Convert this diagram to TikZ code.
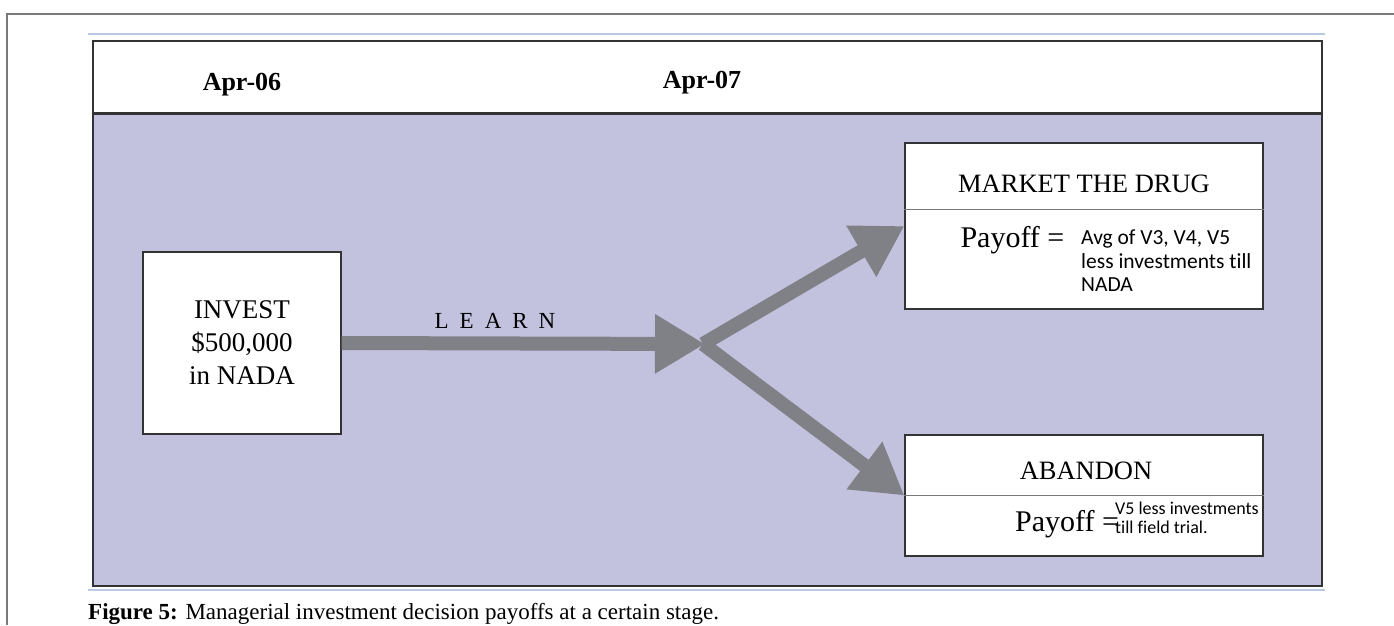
\documentclass[tikz,border=0pt]{standalone}
\usepackage{fontspec}
\setmainfont{Liberation Serif}
\newfontfamily\sansf[Ligatures={NoCommon}]{Carlito}
\usetikzlibrary{arrows.meta}
\definecolor{bgpurple}{HTML}{C2C2DF}
\definecolor{arrowgray}{HTML}{808186}
\definecolor{framegray}{HTML}{7A7A7A}
\definecolor{rulelight}{HTML}{BACAE2}
\definecolor{darkline}{HTML}{333333}
\tikzset{
  box/.style={draw=darkline, line width=1.3pt, fill=white, inner sep=0pt},
  bigarrow/.style={draw=arrowgray, line width=14pt, -{Triangle[length=50pt,width=56pt]}},
  serifbig/.style={font=\fontsize{26.5}{30}\selectfont},
}
\begin{document}
\begin{tikzpicture}[x=1pt,y=-1pt]
\useasboundingbox (0,0) rectangle (1394,625);
% outer frame
\draw[framegray, line width=1.5pt] (7,625) -- (7,14) -- (1394,14);
% light rules
\draw[rulelight, line width=1.2pt] (88,34) -- (1325,34);
\draw[rulelight, line width=1.2pt] (88,590) -- (1325,590);
% main panel
\fill[white] (93,41) rectangle (1322,113);
\fill[bgpurple] (93,113) rectangle (1322,586);
\draw[darkline, line width=2pt] (93,41) rectangle (1322,586);
\draw[darkline, line width=3pt] (93,113) -- (1322,113);
% header labels
\node[font=\fontsize{26}{30}\selectfont\bfseries] (a06) at (242,85) {Apr-06};
\node[font=\fontsize{26}{30}\selectfont\bfseries] (a07) at (702,83) {Apr-07};
% invest box
\node[box, minimum width=198pt, minimum height=182pt, align=center,
      font=\fontsize{27}{33}\selectfont] (inv) at (242,343) {INVEST\\\$500,000\\in NADA};
% market box
\node[box, minimum width=358pt, minimum height=166pt] (mkt) at (1084,226) {};
\draw[framegray, line width=1pt] (mkt.west |- 0,209) coordinate (m1) -- (mkt.east |- 0,209) coordinate (m2);
\node[serifbig] (mkttitle) at (1084,184) {MARKET THE DRUG};
\node[font=\fontsize{30}{34}\selectfont, anchor=base west] (mktpay) at (957,247) {Payoff =};
\node[font=\sansf\fontsize{21.5}{23.5}\selectfont, anchor=north west, align=left, inner sep=0pt] (mktval) at (1081,230)
  {Avg of V3, V4, V5\\less investments till\\NADA};
% abandon box
\node[box, minimum width=358pt, minimum height=121pt] (abd) at (1084,495.5) {};
\draw[framegray, line width=1pt] (abd.west |- 0,495) coordinate (a1) -- (abd.east |- 0,495) coordinate (a2);
\node[serifbig] (abdtitle) at (1086,471) {ABANDON};
\node[font=\fontsize{30}{34}\selectfont, anchor=base west, inner sep=0pt] (abdpay) at (1015,531) {Payoff =};
\node[font=\sansf\fontsize{18}{19}\selectfont, anchor=north west, align=left, inner sep=0pt] (abdval) at (1115,502)
  {V5 less investments\\till field trial.};
% arrows
\coordinate (br) at (705,344);
\node[font=\fontsize{23}{26}\selectfont] (learn) at (495,321) {L\hspace{11pt}E\hspace{11pt}A\hspace{11pt}R\hspace{11pt}N};
\draw[bigarrow] (inv.east) -- (br);
\draw[bigarrow] ([xshift=-2pt]br) -- (mkt.west);
\draw[bigarrow] ([xshift=-2pt]br) -- (abd.west);
% caption
\node[anchor=base west, inner sep=0pt, font=\fontsize{23}{26}\selectfont] (cap) at (88,619)
  {\textbf{Figure 5:} Managerial investment decision payoffs at a certain stage.};
\end{tikzpicture}
\end{document}
